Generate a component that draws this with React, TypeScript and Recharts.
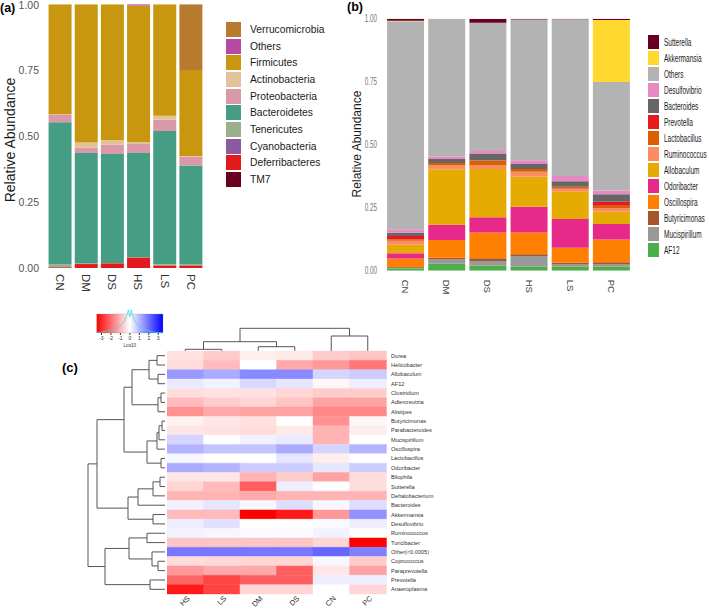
import React from "react";
import {
    Bar,
    BarChart,
    Cell,
    ComposedChart,
    Legend,
    Line,
    ReferenceArea,
    Scatter,
    ScatterChart,
    XAxis,
    YAxis
} from "recharts";

const FONT = '"Liberation Sans", Arial, Helvetica, sans-serif';

// (a) phylum level, stacked bottom -> top
const groupsA = ["CN", "DM", "DS", "HS", "LS", "PC"];
const phylumNames = ["TM7", "Deferribacteres", "Cyanobacteria", "Tenericutes", "Bacteroidetes", "Proteobacteria", "Actinobacteria", "Firmicutes", "Others", "Verrucomicrobia"];
const phylumColors = ["#6a0020", "#e3191c", "#8b5a9f", "#9ab08c", "#459e84", "#d999a8", "#e0c398", "#c9960f", "#b64aa2", "#b87a2f"];
const tm7 = [0, 0, 0, 0, 0, 0];
const deferribacteres = [0.003, 0.015, 0.018, 0.04, 0.01, 0.01];
const cyanobacteria = [0, 0, 0, 0, 0, 0];
const tenericutes = [0.01, 0.002, 0.001, 0.001, 0.004, 0.003];
const bacteroidetes = [0.54, 0.419, 0.413, 0.395, 0.506, 0.376];
const proteobacteria = [0.028, 0.02, 0.035, 0.034, 0.042, 0.034];
const actinobacteria = [0.002, 0.02, 0.017, 0.008, 0.015, 0.002];
const firmicutes = [0.417, 0.524, 0.516, 0.517, 0.423, 0.326];
const othersA = [0, 0, 0, 0.005, 0, 0];
const verrucomicrobia = [0, 0, 0, 0, 0, 0.249];
const phylumValues = [tm7, deferribacteres, cyanobacteria, tenericutes, bacteroidetes, proteobacteria, actinobacteria, firmicutes, othersA, verrucomicrobia];

// (b) genus level, stacked bottom -> top
const genusNamesB = ["AF12", "Mucispirillum", "Butyricimonas", "Oscillospira", "Odoribacter", "Allobaculum", "Ruminococcus", "Lactobacillus", "Prevotella", "Bacteroides", "Desulfovibrio", "Others", "Akkermansia", "Sutterella"];
const genusColorsB = ["#4daf4a", "#999999", "#a65628", "#ff7f00", "#e7298a", "#e6ab02", "#fc8d62", "#d95f02", "#e41a1c", "#666666", "#e78ac3", "#b3b3b3", "#ffd92f", "#67001f"];
const af12 = [0.01, 0.028, 0.02, 0.016, 0.016, 0.016];
const mucispirillum = [0.002, 0.016, 0.018, 0.042, 0.009, 0.009];
const butyricimonas = [0.003, 0.007, 0.011, 0.007, 0.008, 0.009];
const oscillospira = [0.033, 0.071, 0.103, 0.087, 0.058, 0.09];
const odoribacter = [0.021, 0.06, 0.06, 0.102, 0.114, 0.061];
const allobaculum = [0.034, 0.221, 0.192, 0.119, 0.108, 0.049];
const ruminococcus = [0.016, 0.014, 0.013, 0.02, 0.012, 0.013];
const lactobacillus = [0.006, 0.01, 0.02, 0.011, 0.008, 0.011];
const prevotella = [0.013, 0, 0, 0, 0, 0.016];
const bacteroides = [0.013, 0.016, 0.026, 0.019, 0.022, 0.029];
const desulfovibrio = [0.013, 0.01, 0.012, 0.015, 0.021, 0.015];
const othersB = [0.826, 0.547, 0.509, 0.559, 0.622, 0.431];
const akkermansia = [0.002, 0, 0, 0, 0, 0.246];
const sutterella = [0.008, 0, 0.016, 0.003, 0.002, 0.005];
const genusValuesB = [af12, mucispirillum, butyricimonas, oscillospira, odoribacter, allobaculum, ruminococcus, lactobacillus, prevotella, bacteroides, desulfovibrio, othersB, akkermansia, sutterella];

const abundanceTicks = [0, 0.25, 0.5, 0.75, 1];

// (c) heatmap, log10 scale, columns in dendrogram order
const heatSamples = ["HS", "LS", "DM", "DS", "CN", "PC"];
const heatGenera = ["Dorea", "Helicobacter", "Allobaculum", "AF12", "Clostridium", "Adlercreutzia", "Alistipes", "Butyricimonas", "Parabacteroides", "Mucispirillum", "Oscillospira", "Lactobacillus", "Odoribacter", "Bilophila", "Sutterella", "Dehalobacterium", "Bacteroides", "Akkermansia", "Desulfovibrio", "Ruminococcus", "Turicibacter", "Other(<0.0005)", "Coprococcus", "Paraprevotella", "Prevotella", "Anaeroplasma"];
const heatHS = [-0.35, -0.4, 1.2, 0.25, -0.4, -0.8, -1.3, -0.15, -0.3, 0.5, 0.9, 0.1, 1.0, -0.3, -0.5, -0.9, 0.15, -0.8, 0.2, 0.15, -0.7, 1.6, -0.4, -1.2, -1.8, -2.7];
const heatLS = [-0.6, -0.8, 1.0, 0.15, -0.35, -0.6, -1.0, -0.3, -0.35, 0, 0.7, 0, 0.9, -0.3, -0.8, -0.9, 0.3, -0.8, 0.35, 0.1, -0.7, 1.6, -0.45, -1.0, -2.2, -2.2];
const heatDM = [-0.2, 0, 1.4, 0.45, -0.35, -0.5, -1.1, -0.35, -0.4, 0.15, 0.7, 0, 0.6, -0.9, -1.9, -1.0, 0.1, -3, 0, 0.05, -0.7, 1.6, -0.5, -1.0, -1.9, -0.5];
const heatDS = [-0.25, -1.0, 1.4, 0.3, -0.5, -0.7, -1.1, 0, -0.25, 0.25, 1.0, 0.3, 0.6, -0.6, 0.2, -0.9, 0.4, -2.7, 0, 0.05, -0.7, 1.6, -0.5, -1.9, -1.9, -0.5];
const heatCN = [-0.6, -1.2, 0.5, -0.1, -0.6, -1.1, -1.4, -1.3, -0.9, -0.9, 0.5, -0.2, 0.3, -1.1, 0, -0.9, 0.1, -1.2, 0.05, 0.15, -0.5, 1.8, 0.1, -0.3, 0.2, 0];
const heatPC = [-0.7, -1.6, 0.6, 0.2, -0.6, -1.1, -1.4, -0.1, -0.2, 0, 0.9, 0, 0.6, -0.4, -0.4, -0.9, 0.4, 1.3, 0.2, 0, -3, 1.5, -0.6, -1.1, 0.2, -0.5];
const heatColumns = [heatHS, heatLS, heatDM, heatDS, heatCN, heatPC];

// dendrograms: [left, right, height]; ids below leaf count are leaves
const colMerges = [[0, 1, 1.7], [2, 3, 4.3], [6, 7, 9.3], [4, 5, 15], [8, 9, 22.7]];
const rowMerges = [
    [0, 1, 8], [2, 3, 7], [26, 27, 16], [4, 5, 4], [29, 6, 7], [28, 30, 33],
    [7, 8, 3], [32, 9, 6], [33, 10, 8], [11, 12, 4], [34, 35, 18], [31, 36, 41],
    [13, 14, 5], [38, 15, 12], [39, 16, 27], [17, 18, 12], [40, 41, 37], [37, 42, 68],
    [19, 20, 18], [22, 23, 7], [21, 45, 13], [44, 46, 36], [24, 25, 15], [47, 48, 60], [43, 49, 77]
];

// colour key density trace
const keyX = [-3.5, -3, -2.5, -2, -1.5, -1, -0.6, -0.3, -0.15, 0, 0.15, 0.3, 0.6, 1, 1.5, 2, 2.5, 3, 3.5];
const keyDensity = [0.02, 0.05, 0.1, 0.14, 0.2, 0.38, 0.6, 0.95, 1.22, 0.85, 1.22, 0.9, 0.55, 0.35, 0.2, 0.12, 0.05, 0.02, 0.01];
const keyTicks = [-3, -2, -1, 0, 1, 2, 3];

const dataA = groupsA.map((g, i) => {
    const row: Record<string, any> = { group: g };
    phylumNames.forEach((p, k) => { row[p] = phylumValues[k][i]; });
    return row;
});

const dataB = groupsA.map((g, i) => {
    const row: Record<string, any> = { group: g };
    genusNamesB.forEach((p, k) => { row[p] = genusValuesB[k][i]; });
    return row;
});

const heatData = heatSamples.map((s) => {
    const row: Record<string, any> = { sample: s };
    heatGenera.forEach((_, r) => { row["r" + r] = 1; });
    return row;
});

const keyData = keyX.map((x, i) => ({ x, d: keyDensity[i] }));

function heatColor(v: number) {
    const t = Math.min(Math.abs(v) / 3, 1);
    const c = Math.round(255 * (1 - t));
    return v < 0 ? `rgb(255,${c},${c})` : `rgb(${c},${c},255)`;
}

// U-shaped links for each merge, as (position, height) points
function dendroLinks(merges: number[][], nLeaves: number) {
    const pos: number[] = [];
    const hgt: number[] = [];
    for (let i = 0; i < nLeaves; i++) { pos[i] = i + 0.5; hgt[i] = 0; }
    return merges.map(([a, b, h], k) => {
        const id = nLeaves + k;
        pos[id] = (pos[a] + pos[b]) / 2;
        hgt[id] = h;
        return [
            { p: pos[a], h: hgt[a] },
            { p: pos[a], h },
            { p: pos[b], h },
            { p: pos[b], h: hgt[b] }
        ];
    });
}

const rowLinks = dendroLinks(rowMerges, heatGenera.length);
const colLinks = dendroLinks(colMerges, heatSamples.length);

const noDot = () => <g />;

const TickA = ({ x, y, payload }: any) => (
    <text transform={`translate(${x},${y - 2}) rotate(90)`} dy="0.36em" fontSize={11.5} fill="#333" fontFamily={FONT}>
        {payload.value}
    </text>
);

const TickB = ({ x, y, payload }: any) => (
    <text transform={`translate(${x},${y + 1}) rotate(90)`} dy="0.36em" fontSize={9.5} fill="#444" fontFamily={FONT}>
        {payload.value}
    </text>
);

const YTickB = ({ x, y, payload }: any) => (
    <g transform={`translate(${x},${y})`}>
        <text transform="scale(0.63,1)" textAnchor="end" dy="0.36em" fontSize={10} fill="#777" fontFamily={FONT}>
            {payload.value.toFixed(2)}
        </text>
    </g>
);

const GenusTick = ({ x, y, payload }: any) => (
    <text x={x} y={y} dy="0.36em" fontSize={5.6} fill="#333" fontFamily={FONT}>
        {heatGenera[Math.floor(payload.value)]}
    </text>
);

const SampleTick = ({ x, y, payload }: any) => (
    <text transform={`translate(${x + 5},${y + 5}) rotate(-45)`} textAnchor="end" fontSize={7.5} fill="#333" fontFamily={FONT}>
        {payload.value}
    </text>
);

const LegendA = () => (
    <div style={{ fontFamily: FONT }}>
        {phylumNames.map((name, k) => ({ name, color: phylumColors[k] })).reverse().map((it) => (
            <div key={it.name} style={{ display: "flex", alignItems: "center", height: 16.7 }}>
                <span style={{ width: 15, height: 15, flexShrink: 0, background: it.color, marginRight: 9 }} />
                <span style={{ fontSize: 10.3, color: "#1a1a1a", whiteSpace: "nowrap" }}>{it.name}</span>
            </div>
        ))}
    </div>
);

const LegendB = () => (
    <div style={{ fontFamily: FONT }}>
        {genusNamesB.map((name, k) => ({ name, color: genusColorsB[k] })).reverse().map((it) => (
            <div key={it.name} style={{ display: "flex", alignItems: "center", height: 16 }}>
                <span style={{ width: 11, height: 14, flexShrink: 0, background: it.color, marginRight: 5 }} />
                <span style={{ fontSize: 10, color: "#1a1a1a", whiteSpace: "nowrap", display: "inline-block", flexShrink: 0, transform: "scaleX(0.65)", transformOrigin: "left center" }}>{it.name}</span>
            </div>
        ))}
    </div>
);

const abs = (left: number, top: number): React.CSSProperties => ({ position: "absolute", left, top });

const vTitle = (x: number, y: number, size: number, text: string) => (
    <div style={{ ...abs(x, y), transform: "translate(-50%,-50%) rotate(-90deg)", whiteSpace: "nowrap", fontSize: size, color: "#1a1a1a" }}>
        {text}
    </div>
);

export default function App() {
    return (
        <div style={{ position: "absolute", left: 0, top: 0, width: 709, height: 610, background: "#fff", overflow: "hidden", fontFamily: FONT }}>
            <div style={{ ...abs(0, 1), fontWeight: "bold", fontSize: 12.5 }}>(a)</div>
            <div style={{ ...abs(347, 0), fontWeight: "bold", fontSize: 12.5 }}>(b)</div>
            <div style={{ ...abs(62, 360), fontWeight: "bold", fontSize: 13 }}>(c)</div>
            {vTitle(10, 140, 14, "Relative Abundance")}
            {vTitle(357, 144, 12, "Relative Abundance")}

            {/* (a) phylum composition */}
            <div style={abs(0, 0)}>
                <BarChart width={360} height={300} data={dataA} margin={{ top: 4.3, right: 156, bottom: 0, left: 0 }} barCategoryGap="6%">
                    <XAxis dataKey="group" axisLine={false} tickLine={false} height={32} interval={0} tick={<TickA />} />
                    <YAxis domain={[0, 1]} ticks={abundanceTicks} allowDataOverflow width={47} axisLine={false} tickLine={false}
                        tickFormatter={(v) => v.toFixed(2)} tick={{ fontSize: 10.5, fill: "#555", fontFamily: FONT }} />
                    {phylumNames.map((p, k) => (
                        <Bar key={p} dataKey={p} stackId="a" fill={phylumColors[k]} isAnimationActive={false} />
                    ))}
                    <Legend layout="vertical" align="center" verticalAlign="middle" content={<LegendA />}
                        wrapperStyle={{ left: 226, top: 21, width: 134, height: 170 }} />
                </BarChart>
            </div>

            {/* (b) genus composition */}
            <div style={abs(330, 0)}>
                <BarChart width={379} height={300} data={dataB} margin={{ top: 18.7, right: 77, bottom: 0, left: 0 }} barCategoryGap="5%">
                    <XAxis dataKey="group" axisLine={false} tickLine={false} height={29.3} interval={0} tick={<TickB />} />
                    <YAxis domain={[0, 1]} ticks={abundanceTicks} allowDataOverflow width={55} axisLine={false} tickLine={false} tick={<YTickB />} />
                    {genusNamesB.map((g, k) => (
                        <Bar key={g} dataKey={g} stackId="b" fill={genusColorsB[k]} isAnimationActive={false} />
                    ))}
                    <Legend layout="vertical" align="center" verticalAlign="middle" content={<LegendB />}
                        wrapperStyle={{ left: 318, top: 34, width: 61, height: 230, overflow: "visible" }} />
                </BarChart>
            </div>

            {/* (c) colour key */}
            <div style={abs(90, 306)}>
                <ComposedChart width={80} height={41} data={keyData} margin={{ top: 2.3, right: 7, bottom: 0, left: 6.7 }}>
                    <defs>
                        <linearGradient id="keyGrad" x1="0" y1="0" x2="1" y2="0">
                            <stop offset="0%" stopColor="#ff0000" />
                            <stop offset="50%" stopColor="#ffffff" />
                            <stop offset="100%" stopColor="#0000ff" />
                        </linearGradient>
                    </defs>
                    <XAxis dataKey="x" type="number" domain={[-3.5, 3.5]} ticks={keyTicks} axisLine={false} tickSize={2} tickMargin={1}
                        height={14} tick={{ fontSize: 5, fill: "#333", fontFamily: FONT }} stroke="#333"
                        label={{ value: "Log10", position: "insideBottom", offset: 0, fontSize: 4.5, fill: "#333" }} />
                    <YAxis type="number" domain={[0, 1.3]} allowDataOverflow hide />
                    <ReferenceArea x1={-3.5} x2={3.5} y1={0} y2={1} fill="url(#keyGrad)" fillOpacity={1} stroke="#999" strokeWidth={0.3} />
                    <Line dataKey="d" type="linear" stroke="#3ed8ea" strokeWidth={0.8} dot={false} isAnimationActive={false} />
                </ComposedChart>
            </div>

            {/* (c) column dendrogram */}
            <div style={abs(167, 324)}>
                <ScatterChart width={219} height={27} margin={{ top: 4, right: 0, bottom: 0, left: 0 }}>
                    <XAxis type="number" dataKey="x" domain={[0, 6]} hide />
                    <YAxis type="number" dataKey="y" domain={[0, 23]} hide />
                    {colLinks.map((pts, k) => (
                        <Scatter key={k} data={pts.map((q) => ({ x: q.p, y: q.h }))} line={{ stroke: "#555", strokeWidth: 1 }}
                            shape={noDot} isAnimationActive={false} />
                    ))}
                </ScatterChart>
            </div>

            {/* (c) row dendrogram */}
            <div style={abs(83, 351)}>
                <ScatterChart width={84} height={243} margin={{ top: 0, right: 2, bottom: 0, left: 5 }}>
                    <XAxis type="number" dataKey="x" domain={[0, 77]} reversed hide />
                    <YAxis type="number" dataKey="y" domain={[0, 26]} reversed hide />
                    {rowLinks.map((pts, k) => (
                        <Scatter key={k} data={pts.map((q) => ({ x: q.h, y: q.p }))} line={{ stroke: "#555", strokeWidth: 1 }}
                            shape={noDot} isAnimationActive={false} />
                    ))}
                </ScatterChart>
            </div>

            {/* (c) heatmap */}
            <div style={abs(167, 349)}>
                <BarChart width={309} height={262} data={heatData} margin={{ top: 2, right: 0, bottom: 0, left: 0 }} barCategoryGap={0} barGap={0}>
                    <XAxis dataKey="sample" axisLine={false} tickLine={false} tickSize={0} tickMargin={0} height={17} interval={0} tick={<SampleTick />} />
                    <YAxis orientation="right" type="number" domain={[0, 26]} reversed width={90} axisLine={false} tickLine={false}
                        tickSize={3} tickMargin={2} interval={0} ticks={heatGenera.map((_, r) => r + 0.5)} tick={<GenusTick />} />
                    {heatGenera.map((g, r) => (
                        <Bar key={g} dataKey={"r" + r} stackId="h" isAnimationActive={false}>
                            {heatSamples.map((s, c) => {
                                const col = heatColor(heatColumns[c][r]);
                                return <Cell key={s} fill={col} stroke={col} strokeWidth={0.4} />;
                            })}
                        </Bar>
                    ))}
                </BarChart>
            </div>
        </div>
    );
}
